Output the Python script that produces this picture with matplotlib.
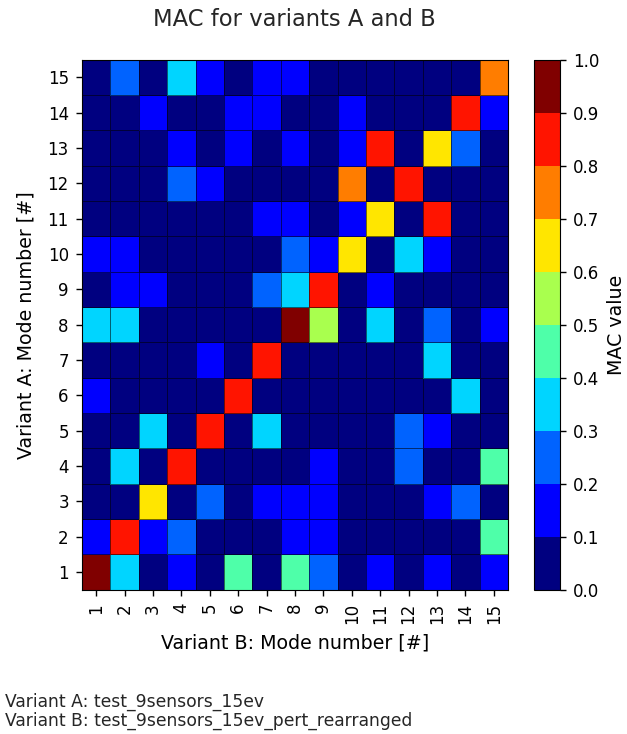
import numpy as np
import matplotlib
matplotlib.use("Agg")
import matplotlib.pyplot as plt

# MAC matrix: rows = Variant A modes, columns = Variant B modes
mode_numbers = list(range(1, 16))
mac_values = [
    [0.97, 0.36, 0.04, 0.14, 0.06, 0.45, 0.03, 0.44, 0.24, 0.02, 0.13, 0.05, 0.16, 0.03, 0.12],
    [0.15, 0.86, 0.12, 0.23, 0.05, 0.03, 0.07, 0.14, 0.17, 0.02, 0.06, 0.04, 0.08, 0.01, 0.43],
    [0.03, 0.07, 0.65, 0.05, 0.24, 0.02, 0.16, 0.13, 0.15, 0.04, 0.03, 0.06, 0.12, 0.26, 0.05],
    [0.06, 0.35, 0.02, 0.84, 0.04, 0.08, 0.03, 0.05, 0.14, 0.07, 0.02, 0.22, 0.04, 0.06, 0.46],
    [0.02, 0.05, 0.34, 0.07, 0.85, 0.03, 0.37, 0.06, 0.02, 0.04, 0.08, 0.25, 0.13, 0.03, 0.05],
    [0.14, 0.03, 0.06, 0.02, 0.05, 0.86, 0.04, 0.07, 0.03, 0.05, 0.02, 0.06, 0.04, 0.36, 0.03],
    [0.04, 0.06, 0.03, 0.08, 0.12, 0.02, 0.84, 0.05, 0.04, 0.03, 0.07, 0.02, 0.35, 0.05, 0.04],
    [0.34, 0.33, 0.05, 0.03, 0.06, 0.04, 0.08, 0.96, 0.53, 0.07, 0.35, 0.04, 0.26, 0.02, 0.14],
    [0.05, 0.13, 0.16, 0.04, 0.02, 0.07, 0.27, 0.36, 0.83, 0.05, 0.12, 0.03, 0.06, 0.04, 0.02],
    [0.16, 0.14, 0.03, 0.05, 0.07, 0.02, 0.06, 0.23, 0.15, 0.66, 0.04, 0.34, 0.13, 0.05, 0.03],
    [0.02, 0.04, 0.06, 0.03, 0.05, 0.08, 0.15, 0.12, 0.04, 0.14, 0.64, 0.07, 0.85, 0.06, 0.02],
    [0.07, 0.03, 0.05, 0.25, 0.13, 0.04, 0.02, 0.06, 0.08, 0.74, 0.03, 0.86, 0.05, 0.04, 0.07],
    [0.04, 0.06, 0.02, 0.16, 0.03, 0.14, 0.05, 0.12, 0.06, 0.15, 0.83, 0.02, 0.65, 0.24, 0.05],
    [0.03, 0.05, 0.13, 0.07, 0.04, 0.15, 0.16, 0.03, 0.05, 0.12, 0.06, 0.04, 0.02, 0.85, 0.14],
    [0.06, 0.25, 0.04, 0.36, 0.14, 0.03, 0.12, 0.15, 0.07, 0.02, 0.05, 0.08, 0.03, 0.06, 0.76],
]
colorbar_ticks = [0.0, 0.1, 0.2, 0.3, 0.4, 0.5, 0.6, 0.7, 0.8, 0.9, 1.0]
variant_a = "test_9sensors_15ev"
variant_b = "test_9sensors_15ev_pert_rearranged"

tick_fs = 12
label_fs = 13.7
title_fs = 16.3
note_fs = 12.3
plt.rcParams["font.family"] = "DejaVu Sans"
plt.rcParams["text.color"] = "#262626"

fig = plt.figure(figsize=(6.27, 7.34), dpi=100)
ax = fig.add_axes([0.1308, 0.1965, 0.6794, 0.722])
cax = fig.add_axes([0.8517, 0.1965, 0.0415, 0.722])

mac = np.array(mac_values)
edges = np.arange(0.5, len(mode_numbers) + 1, 1.0)
cmap = plt.get_cmap("jet", 10)
mesh = ax.pcolormesh(
    edges, edges, mac, cmap=cmap, vmin=0, vmax=1,
    edgecolors=(0, 0, 0, 0.55), linewidth=0.5,
)
ax.set_xlim(edges[0], edges[-1])
ax.set_ylim(edges[0], edges[-1])
ax.set_xticks(mode_numbers)
ax.set_yticks(mode_numbers)
ax.set_xticklabels([str(m) for m in mode_numbers], rotation=90)
ax.set_yticklabels([str(m) for m in mode_numbers])
ax.tick_params(labelsize=tick_fs, length=4.5, width=1, pad=5)
ax.set_xlabel("Variant B: Mode number [#]", fontsize=label_fs, labelpad=7)
ax.set_ylabel("Variant A: Mode number [#]", fontsize=label_fs, labelpad=9)

cbar = fig.colorbar(mesh, cax=cax, ticks=colorbar_ticks)
cbar.ax.tick_params(labelsize=tick_fs, length=4.5, width=1, pad=5)
cbar.set_label("MAC value", fontsize=label_fs, labelpad=5)

fig.text(0.4695, 1 - 26 / 734, "MAC for variants A and B",
         ha="center", va="baseline", fontsize=title_fs)
fig.text(
    0.008, 0.006,
    f"Variant A: {variant_a}\nVariant B: {variant_b}",
    ha="left", va="bottom", fontsize=note_fs, linespacing=1.05,
)

fig.savefig("out.png", dpi=100)
